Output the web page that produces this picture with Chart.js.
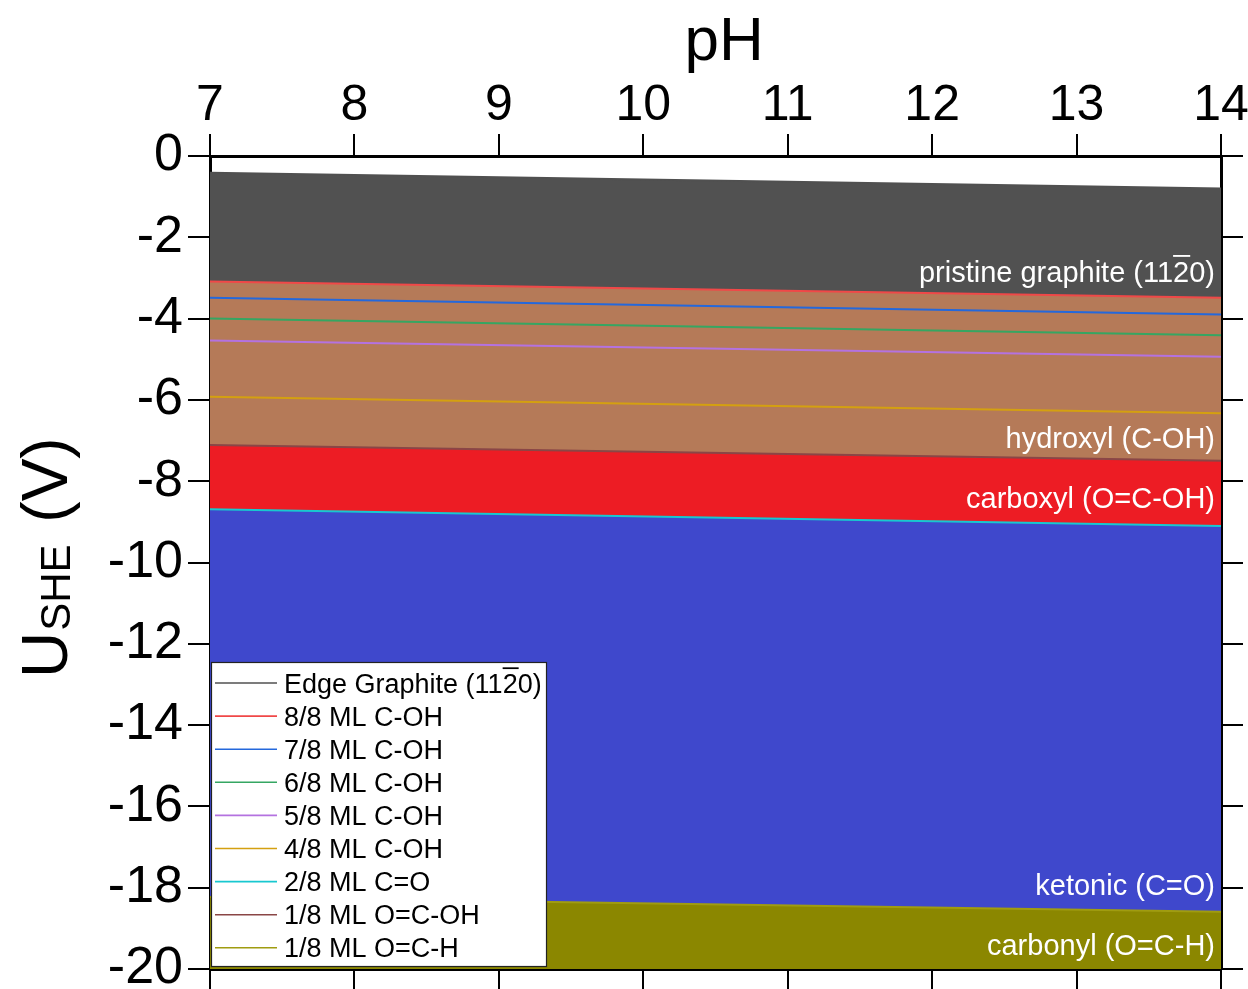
<!DOCTYPE html>
<html><head><meta charset="utf-8">
<script src="https://cdn.jsdelivr.net/npm/chart.js@4.4.0/dist/chart.umd.min.js"></script>
<style>html,body{margin:0;padding:0;background:#fff}canvas{display:block}</style>
</head><body>
<canvas id="c" width="1248" height="989"></canvas>
<script>
// ---- data ----
const pH = [7, 14];
const pHTicks = [7, 8, 9, 10, 11, 12, 13, 14];
const uTicks = [0, -2, -4, -6, -8, -10, -12, -14, -16, -18, -20];
const edgeGraphite = [-0.41, -0.80];
const ml8_COH = [-3.09, -3.49];
const ml7_COH = [-3.49, -3.90];
const ml6_COH = [-4.00, -4.41];
const ml5_COH = [-4.54, -4.94];
const ml4_COH = [-5.92, -6.33];
const ml2_CO = [-8.69, -9.10];
const ml1_OCOH = [-7.11, -7.50];
const ml1_OCH = [-18.23, -18.59];
const seriesLabels = ['Edge Graphite (112\u03050)', '8/8 ML C-OH', '7/8 ML C-OH', '6/8 ML C-OH',
  '5/8 ML C-OH', '4/8 ML C-OH', '2/8 ML C=O', '1/8 ML O=C-OH', '1/8 ML O=C-H'];
const regionLabels = ['pristine graphite (112\u03050)', 'hydroxyl (C-OH)', 'carboxyl (O=C-OH)',
  'ketonic (C=O)', 'carbonyl (O=C-H)'];

const FAM = '"Liberation Sans", Arial, Helvetica, sans-serif';
Chart.defaults.font.family = FAM;

function pts(vals) { return pH.map((x, i) => ({x: x, y: vals[i]})); }

function drawOverlined(ctx, text, x, y, align, size) {
  const plain = text.replace(/\u0305/g, '');
  const w = ctx.measureText(plain).width;
  const x0 = align === 'right' ? x - w : x;
  ctx.textAlign = 'left';
  ctx.fillText(plain, x0, y);
  let out = '';
  for (let i = 0; i < text.length; i++) {
    if (text[i] === '\u0305') {
      const pre = out.slice(0, -1), ch = out.slice(-1);
      const a = x0 + ctx.measureText(pre).width;
      const b = a + ctx.measureText(ch).width;
      ctx.save();
      ctx.strokeStyle = ctx.fillStyle;
      ctx.lineWidth = Math.max(1.5, size * 0.065);
      ctx.beginPath();
      ctx.moveTo(a, y - size * 0.9);
      ctx.lineTo(b + 1, y - size * 0.9);
      ctx.stroke();
      ctx.restore();
    } else out += text[i];
  }
}

const deco = {
  id: 'deco',
  afterDraw(chart) {
    const ctx = chart.ctx, ca = chart.chartArea, ys = chart.scales.y;
    ctx.save();
    // region annotations
    const regionY = [-3.10, -7.18, -8.66, -18.18, -19.66];
    ctx.fillStyle = '#ffffff';
    ctx.font = '29px ' + FAM;
    ctx.textBaseline = 'alphabetic';
    regionLabels.forEach((t, i) => drawOverlined(ctx, t, ca.right - 6, ys.getPixelForValue(regionY[i]), 'right', 29));
    // legend
    const lx = ca.left + 1, lw = 336, lh = 305, ly = ca.bottom - 2 - lh;
    ctx.fillStyle = '#fff';
    ctx.fillRect(lx, ly, lw, lh);
    ctx.strokeStyle = '#222';
    ctx.lineWidth = 1.2;
    ctx.strokeRect(lx + 0.5, ly + 0.5, lw - 1, lh - 1);
    ctx.font = '27px ' + FAM;
    chart.data.datasets.forEach((ds, i) => {
      const yy = ly + 21 + i * 33.1;
      ctx.strokeStyle = ds.borderColor;
      ctx.lineWidth = 1.6;
      ctx.beginPath();
      ctx.moveTo(lx + 4, yy);
      ctx.lineTo(lx + 66, yy);
      ctx.stroke();
      ctx.fillStyle = '#000';
      drawOverlined(ctx, ds.label, lx + 73, yy + 9.5, 'left', 27);
    });
    // y-axis title U_SHE (V)
    ctx.translate(67, 678);
    ctx.rotate(-Math.PI / 2);
    ctx.fillStyle = '#000';
    ctx.textAlign = 'left';
    ctx.font = '64px ' + FAM;
    ctx.fillText('U', 0, 0);
    let off = ctx.measureText('U').width + 1;
    ctx.font = '42px ' + FAM;
    ctx.fillText('SHE', off, 3);
    off += ctx.measureText('SHE').width;
    ctx.font = '64px ' + FAM;
    ctx.fillText(' (V)', off + 4, 0);
    ctx.restore();
  }
};

function noPad(s) { s.paddingTop = 0; s.paddingBottom = 0; s.paddingLeft = 0; s.paddingRight = 0; }

const axisCommon = {
  grid: {drawOnChartArea: false, tickLength: 22, color: '#000', lineWidth: 2},
  border: {color: '#000', width: 3},
  z: 1
};

new Chart(document.getElementById('c'), {
  type: 'line',
  data: {
    datasets: [
      {label: seriesLabels[0], data: pts(edgeGraphite), borderColor: '#505050', backgroundColor: '#515151', fill: 1},
      {label: seriesLabels[1], data: pts(ml8_COH), borderColor: '#f04848', backgroundColor: '#b57a58', fill: 7},
      {label: seriesLabels[2], data: pts(ml7_COH), borderColor: '#2468dc', fill: false},
      {label: seriesLabels[3], data: pts(ml6_COH), borderColor: '#35a662', fill: false},
      {label: seriesLabels[4], data: pts(ml5_COH), borderColor: '#b472e0', fill: false},
      {label: seriesLabels[5], data: pts(ml4_COH), borderColor: '#d4a010', fill: false},
      {label: seriesLabels[6], data: pts(ml2_CO), borderColor: '#18c8d0', backgroundColor: '#3f48cc', fill: 8},
      {label: seriesLabels[7], data: pts(ml1_OCOH), borderColor: '#8a4646', backgroundColor: '#ed1c24', fill: 6},
      {label: seriesLabels[8], data: pts(ml1_OCH), borderColor: '#a09c10', backgroundColor: '#8b8700', fill: 'start'}
    ]
  },
  options: {
    responsive: false,
    animation: false,
    devicePixelRatio: 1,
    layout: {padding: 0},
    elements: {line: {borderWidth: 2, tension: 0}, point: {radius: 0}},
    plugins: {
      legend: {display: false},
      tooltip: {enabled: false},
      filler: {drawTime: 'beforeDatasetsDraw', propagate: false}
    },
    scales: {
      x: Object.assign({}, axisCommon, {
        type: 'linear', position: 'top', min: 7, max: 14,
        afterBuildTicks: s => { s.ticks = pHTicks.map(v => ({value: v})); },
        ticks: {font: {size: 50}, color: '#000', padding: -2, maxRotation: 0, autoSkip: false},
        title: {display: true, text: ' pH', font: {size: 62}, color: '#000', padding: {top: 6, bottom: 0}},
        afterFit: s => { s.height = 156; noPad(s); }
      }),
      xb: Object.assign({}, axisCommon, {
        type: 'linear', position: 'bottom', min: 7, max: 14,
        afterBuildTicks: s => { s.ticks = pHTicks.map(v => ({value: v})); },
        ticks: {display: false},
        afterFit: s => { s.height = 20; noPad(s); }
      }),
      y: Object.assign({}, axisCommon, {
        type: 'linear', position: 'left', min: -20, max: 0,
        afterBuildTicks: s => { s.ticks = uTicks.map(v => ({value: v})); },
        ticks: {font: {size: 52}, color: '#000', padding: 5},
        afterFit: s => { s.width = 210; noPad(s); }
      }),
      yr: Object.assign({}, axisCommon, {
        type: 'linear', position: 'right', min: -20, max: 0,
        afterBuildTicks: s => { s.ticks = uTicks.map(v => ({value: v})); },
        ticks: {display: false},
        afterFit: s => { s.width = 27; noPad(s); }
      })
    }
  },
  plugins: [deco]
});
</script>
</body></html>
